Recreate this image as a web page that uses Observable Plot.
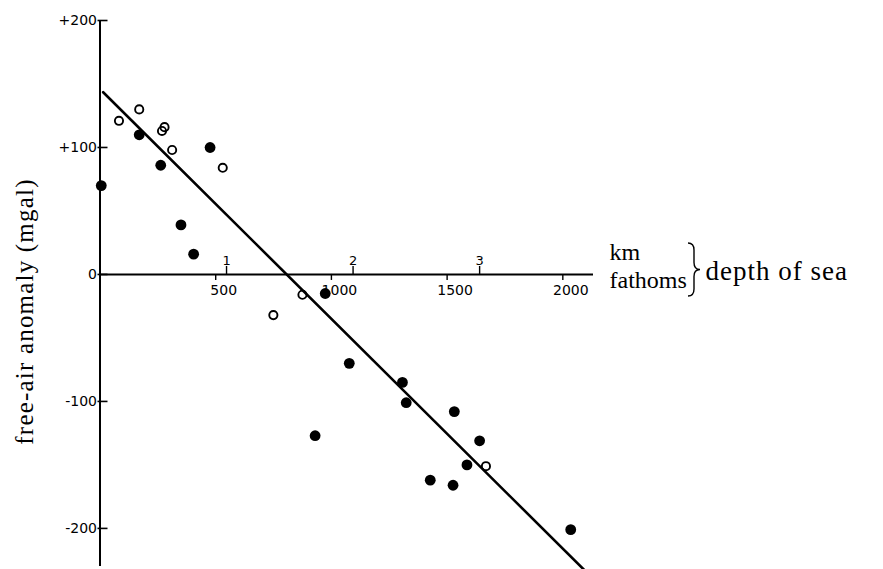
<!DOCTYPE html>
<html>
<head>
<meta charset="utf-8">
<script src="https://cdn.jsdelivr.net/npm/d3@7"></script>
<script src="https://cdn.jsdelivr.net/npm/@observablehq/plot@0.6"></script>
<style>
  html, body { margin: 0; padding: 0; background: #fff; }
  #chart { width: 883px; height: 569px; overflow: hidden; }
</style>
</head>
<body>
<div id="chart"></div>
<script>
// Free-air gravity anomaly plotted against depth of sea.
// Depths in km (the fathom scale is derived), anomalies in mgal.
const openDepthKm  = [0.15, 0.31, 0.49, 0.51, 0.57, 0.97, 1.37, 1.60, 3.05];
const openAnomaly  = [121, 130, 113, 116, 98, 84, -32, -16, -151];

const solidDepthKm = [0.01, 0.31, 0.48, 0.64, 0.74, 0.87, 1.70, 1.78, 1.97, 2.39, 2.42, 2.61, 2.79, 2.80, 2.90, 3.00, 3.72];
const solidAnomaly = [70, 110, 86, 39, 16, 100, -127, -15, -70, -85, -101, -162, -166, -108, -150, -131, -201];

// End points of the fitted straight line
const fitDepthKm = [0.025, 3.85];
const fitAnomaly = [143.5, -235];

const anomalyTicks = [200, 100, 0, -100, -200];
const kmTicks = [1, 2, 3];
const fathomTicks = [500, 1000, 1500, 2000];
const unitLabels = ["km", "fathoms"];
const depthLabel = "depth of sea";
const anomalyLabel = "free-air anomaly (mgal)";

const KM_PER_FATHOM = 0.0018288;
const depthDomain = [0, 3.9];
const anomalyDomain = [-230, 200];

const openTable  = openDepthKm.map((d, i) => ({depth: d, anomaly: openAnomaly[i]}));
const solidTable = solidDepthKm.map((d, i) => ({depth: d, anomaly: solidAnomaly[i]}));
const fitTable   = fitDepthKm.map((d, i) => ({depth: d, anomaly: fitAnomaly[i]}));

const sans = "DejaVu Sans";
const serif = "Liberation Serif";
const xEnd = depthDomain[1];

const plot = Plot.plot({
  width: 883,
  height: 569,
  marginLeft: 99.5,
  marginRight: 290,
  marginTop: 20,
  marginBottom: 3,
  x: {domain: depthDomain, axis: null},
  y: {domain: anomalyDomain, axis: null},
  style: {background: "#fff", color: "#000", overflow: "visible"},
  marks: [
    // axes
    Plot.ruleX([0], {y1: anomalyDomain[0], y2: anomalyDomain[1], strokeWidth: 2}),
    Plot.ruleY([0], {strokeWidth: 2}),
    // anomaly ticks and labels
    Plot.ruleY(anomalyTicks, {y: d => d, x1: 0, x2: 0, insetLeft: -2, insetRight: -8, strokeWidth: 1.6}),
    Plot.text(anomalyTicks, {
      x: 0, y: d => d, text: d => (d > 0 ? "+" + d : String(d)),
      textAnchor: "end", dx: -3, fontSize: 14, fontFamily: sans
    }),
    // km ticks above the depth axis
    Plot.ruleX(kmTicks, {x: d => d, y1: 0, y2: 0, insetTop: -8, strokeWidth: 1.4}),
    Plot.text(kmTicks, {x: d => d, y: 0, text: d => String(d), dy: -14, fontSize: 13, fontFamily: sans}),
    // fathom ticks below the depth axis
    Plot.ruleX(fathomTicks, {x: f => f * KM_PER_FATHOM, y1: 0, y2: 0, insetBottom: -6, strokeWidth: 1.4}),
    Plot.text(fathomTicks, {
      x: f => f * KM_PER_FATHOM, y: 0, text: f => String(f),
      dx: 8, dy: 16, fontSize: 14, fontFamily: sans
    }),
    // unit labels at the end of the depth axis
    Plot.text([unitLabels[0]], {
      x: xEnd, y: 0, text: d => d, textAnchor: "start", lineAnchor: "bottom",
      dx: 16, dy: -14, fontSize: 24, fontFamily: serif
    }),
    Plot.text([unitLabels[1]], {
      x: xEnd, y: 0, text: d => d, textAnchor: "start", lineAnchor: "bottom",
      dx: 16, dy: 14, fontSize: 24, fontFamily: serif
    }),
    Plot.text([depthLabel], {
      x: xEnd, y: 0, text: d => d, textAnchor: "start", lineAnchor: "bottom",
      dx: 112, dy: 6, fontSize: 27, fontFamily: serif
    }),
    // anomaly axis label
    Plot.text([anomalyLabel], {
      frameAnchor: "left", text: d => d, rotate: -90, textAnchor: "middle",
      dx: -75, dy: 18, fontSize: 25, fontFamily: serif
    }),
    // fitted line
    Plot.line(fitTable, {x: "depth", y: "anomaly", stroke: "#000", strokeWidth: 2.6}),
    // observations
    Plot.dot(openTable, {x: "depth", y: "anomaly", r: 4.1, stroke: "#000", strokeWidth: 1.9, fill: "none"}),
    Plot.dot(solidTable, {x: "depth", y: "anomaly", r: 5.4, fill: "#000", stroke: "none"})
  ]
});

// slightly wider letter spacing for the long serif labels
const spacing = new Map([[depthLabel, "1px"], [anomalyLabel, "1.2px"]]);
d3.select(plot).selectAll("text")
  .filter(function() { return spacing.has(this.textContent); })
  .style("letter-spacing", function() { return spacing.get(this.textContent); });

// curly brace grouping the km and fathom scales
{
  const xs = plot.scale("x"), ys = plot.scale("y");
  const bx = xs.apply(xEnd) + 95;
  const axisPos = ys.apply(0);
  const yTop = axisPos - 31, yBottom = axisPos + 22, yMid = (yTop + yBottom) / 2;
  const w = 6, r = 7;
  const bracePath = [
    `M${bx},${yTop}`,
    `Q${bx + w},${yTop} ${bx + w},${yTop + r}`,
    `L${bx + w},${yMid - r}`,
    `Q${bx + w},${yMid} ${bx + 2 * w},${yMid}`,
    `Q${bx + w},${yMid} ${bx + w},${yMid + r}`,
    `L${bx + w},${yBottom - r}`,
    `Q${bx + w},${yBottom} ${bx},${yBottom}`
  ].join(" ");
  d3.select(plot).append("path")
    .attr("d", bracePath)
    .attr("fill", "none")
    .attr("stroke", "#000")
    .attr("stroke-width", 1.4);
}

document.getElementById("chart").appendChild(plot);
</script>
</body>
</html>
